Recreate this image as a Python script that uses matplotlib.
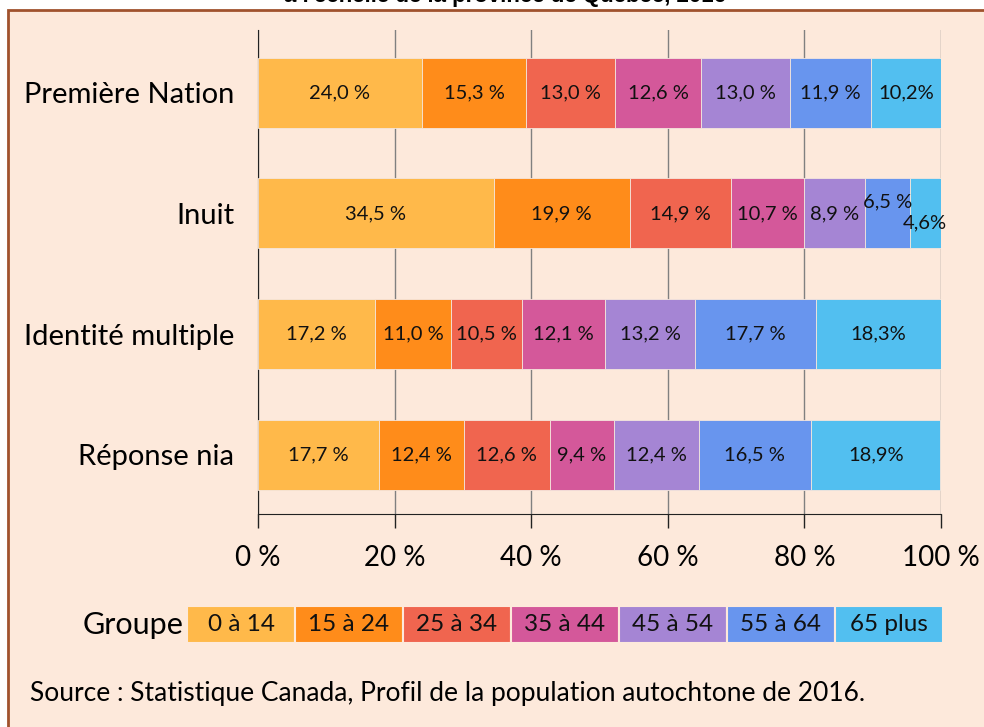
import numpy as np
import matplotlib
matplotlib.use('Agg')
import matplotlib.pyplot as plt
from matplotlib.patches import Rectangle

plt.rcParams['font.family'] = ['Lato', 'DejaVu Sans']

categories = ['Première Nation', 'Inuit', 'Identité multiple', 'Réponse nia']
groups = ['0 à 14', '15 à 24', '25 à 34', '35 à 44', '45 à 54', '55 à 64', '65 plus']
values = np.array([
    [24.0, 15.3, 13.0, 12.6, 13.0, 11.9, 10.2],
    [34.5, 19.9, 14.9, 10.7, 8.9, 6.5, 4.6],
    [17.2, 11.0, 10.5, 12.1, 13.2, 17.7, 18.3],
    [17.7, 12.4, 12.6, 9.4, 12.4, 16.5, 18.9],
])
colors = ['#FFB94A', '#FF8C1A', '#F0654F', '#D4589A', '#A585D4', '#6895EE', '#52BFF0']
xticks = [0, 20, 40, 60, 80, 100]

fig = plt.figure(figsize=(9.84, 7.27), dpi=100)
W, H = 984, 727

# background box with brown border
fig.patches.append(Rectangle((8 / W, -0.05), 1.1, 1 - 10 / H + 0.05, transform=fig.transFigure,
                             facecolor='#FDE9DB', edgecolor='#A0522D', lw=2, zorder=-10))
fig.text(505 / W, 1 - 2 / H, "à l'échelle de la province de Québec, 2016", ha='center', va='baseline',
         fontsize=16, fontweight='bold', family='Liberation Sans', zorder=-5)

ax = fig.add_axes([258 / W, 1 - 514 / H, 683 / W, (514 - 30) / H])
ax.set_facecolor('none')
y = np.arange(len(categories))
left = np.zeros(len(categories))
for j, g in enumerate(groups):
    ax.barh(y, values[:, j], left=left, height=0.58, color=colors[j],
            edgecolor='#f5e6dc', linewidth=0.6, zorder=3)
    for i in range(len(categories)):
        v = values[i, j]
        txt = f'{v:.1f}'.replace('.', ',') + ('%' if j == 6 else ' %')
        dy = 0
        if categories[i] == 'Inuit' and g == '55 à 64':
            dy = 8
        if categories[i] == 'Inuit' and g == '65 plus':
            dy = -7
        ax.annotate(txt, (left[i] + v / 2, y[i]), xytext=(0, dy), textcoords='offset points',
                    ha='center', va='center', fontsize=14.5, color='#111111', zorder=4)
    left += values[:, j]

ax.set_xlim(0, 100)
ax.set_ylim(3.49, -0.52)
ax.set_xticks(xticks)
ax.set_xticklabels([f'{t} %' for t in xticks], fontsize=20)
ax.set_yticks(y)
ax.set_yticklabels(categories, fontsize=21)
ax.tick_params(axis='y', length=0, pad=17)
ax.tick_params(axis='x', length=10, width=1, pad=12, color='#222222')
ax.xaxis.grid(True, color='#808080', lw=1, zorder=0)
for s in ['top', 'right']:
    ax.spines[s].set_visible(False)
ax.spines['left'].set_color('#222222')
ax.spines['bottom'].set_color('#222222')

# legend row
lax = fig.add_axes([187 / W, 1 - 643 / H, 756 / W, 37 / H])
lax.set_facecolor('none')
lax.barh([0] * len(groups), [1] * len(groups), left=np.arange(len(groups)), height=1,
         color=colors, edgecolor='#FDE9DB', linewidth=1.5)
for j, g in enumerate(groups):
    lax.text(j + 0.5, 0, g, ha='center', va='center', fontsize=17.5, color='#111111')
lax.set_xlim(0, len(groups))
lax.set_ylim(-0.5, 0.5)
lax.axis('off')
fig.text(184 / W, 1 - 625 / H, 'Groupe', ha='right', va='center', fontsize=22)

fig.text(30 / W, 1 - 693 / H, 'Source : Statistique Canada, Profil de la population autochtone de 2016.',
         ha='left', va='center', fontsize=19)

fig.savefig('out.png', dpi=100)
